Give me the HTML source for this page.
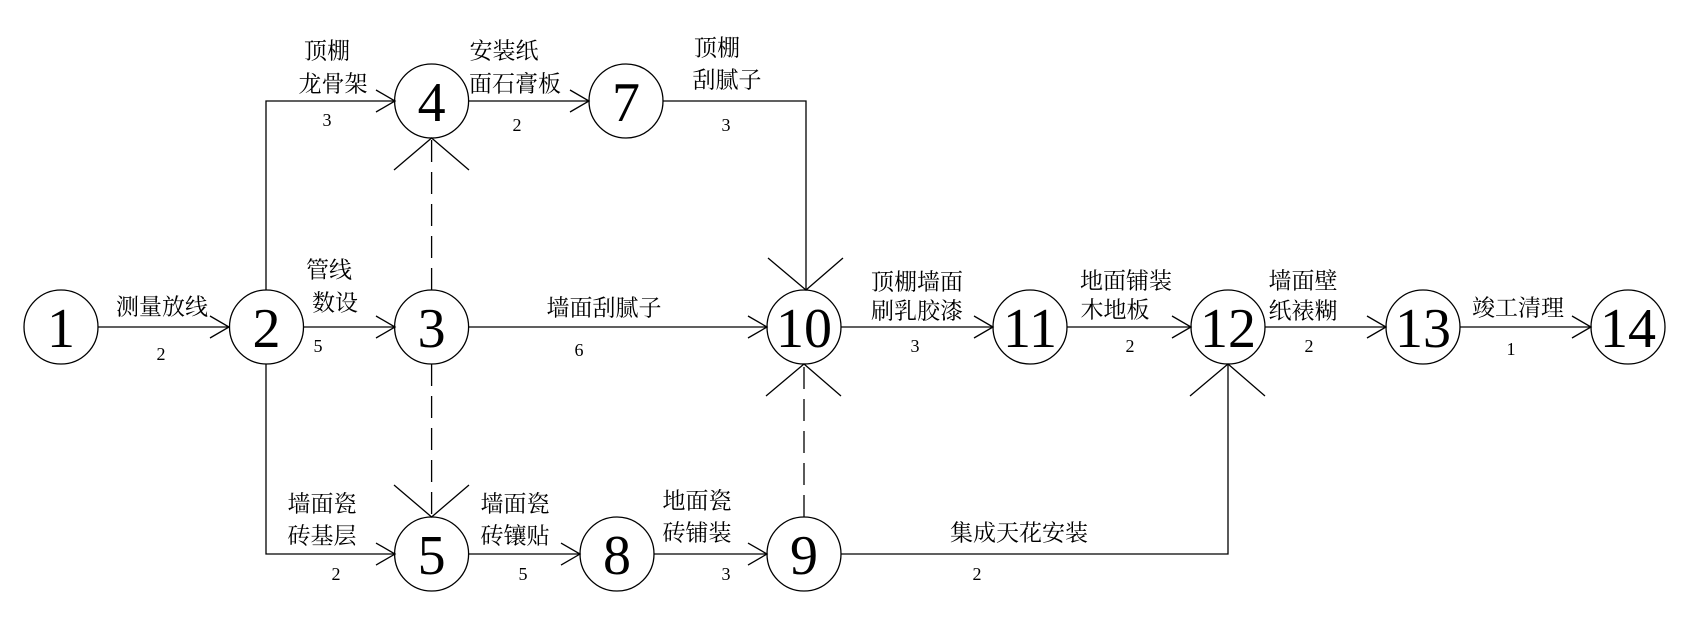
<!DOCTYPE html>
<html><head><meta charset="utf-8"><style>
html,body{margin:0;padding:0;background:#fff;}
svg{display:block;}
.c{font-family:"Liberation Serif","Noto Serif CJK SC",serif;font-size:23px;}
.n{font-family:"Liberation Serif",serif;font-size:18px;}
.b{font-family:"Liberation Serif",serif;font-size:56px;}
</style></head><body>
<svg width="1682" height="635" viewBox="0 0 1682 635" xmlns="http://www.w3.org/2000/svg">
<g stroke="#000" stroke-width="1.3" fill="none">
<!-- solid lines -->
<line x1="98" y1="327" x2="229" y2="327"/>
<line x1="303" y1="327" x2="395" y2="327"/>
<line x1="468" y1="327" x2="767" y2="327"/>
<line x1="841" y1="327" x2="993" y2="327"/>
<line x1="1067" y1="327" x2="1191" y2="327"/>
<line x1="1265" y1="327" x2="1386" y2="327"/>
<line x1="1460" y1="327" x2="1591" y2="327"/>
<polyline points="266,290 266,101 395,101"/>
<line x1="468" y1="101" x2="589" y2="101"/>
<polyline points="663,101 806,101 806,290"/>
<polyline points="266,364 266,554 395,554"/>
<line x1="468" y1="554" x2="580" y2="554"/>
<line x1="654" y1="554" x2="767" y2="554"/>
<polyline points="841,554 1228,554 1228,364"/>
<!-- dashed -->
<line x1="431.6" y1="290" x2="431.6" y2="138" stroke-dasharray="22,10"/>
<line x1="431.6" y1="364" x2="431.6" y2="517" stroke-dasharray="22,10"/>
<line x1="804" y1="517" x2="804" y2="364" stroke-dasharray="22,10"/>
<!-- horizontal arrowheads -->
<g>
<polyline points="210,316 229,327 210,338"/>
<polyline points="376,316 395,327 376,338"/>
<polyline points="748,316 767,327 748,338"/>
<polyline points="974,316 993,327 974,338"/>
<polyline points="1172,316 1191,327 1172,338"/>
<polyline points="1367,316 1386,327 1367,338"/>
<polyline points="1572,316 1591,327 1572,338"/>
<polyline points="376,90 395,101 376,112"/>
<polyline points="570,90 589,101 570,112"/>
<polyline points="376,543 395,554 376,565"/>
<polyline points="561,543 580,554 561,565"/>
<polyline points="748,543 767,554 748,565"/>
</g>
<!-- vertical arrowheads -->
<polyline points="394,170 431.6,138 469,170"/>
<polyline points="394,485 431.6,517 469,485"/>
<polyline points="768,258 806,290 843,258"/>
<polyline points="766,396 804,364 841,396"/>
<polyline points="1190,396 1228,364 1265,396"/>
<!-- nodes -->
<circle cx="61" cy="327" r="37"/>
<circle cx="266.5" cy="327" r="37"/>
<circle cx="431.6" cy="327" r="37"/>
<circle cx="431.6" cy="101" r="37"/>
<circle cx="626" cy="101" r="37"/>
<circle cx="804" cy="327" r="37"/>
<circle cx="431.6" cy="554" r="37"/>
<circle cx="617" cy="554" r="37"/>
<circle cx="804" cy="554" r="37"/>
<circle cx="1030" cy="327" r="37"/>
<circle cx="1228" cy="327" r="37"/>
<circle cx="1423" cy="327" r="37"/>
<circle cx="1628" cy="327" r="37"/>
</g>
<g text-anchor="middle" dominant-baseline="central" fill="#000">
<g class="b">
<text x="61" y="329">1</text><text x="266.5" y="329">2</text><text x="431.6" y="329">3</text>
<text x="431.6" y="103">4</text><text x="626" y="103">7</text><text x="804" y="329">10</text>
<text x="431.6" y="556">5</text><text x="617" y="556">8</text><text x="804" y="556">9</text>
<text x="1030" y="329">11</text><text x="1228" y="329">12</text><text x="1423" y="329">13</text><text x="1628" y="329">14</text>
</g>
<g class="c">
<text x="162" y="307">测量放线</text>
<text x="327" y="51">顶棚</text><text x="333" y="84">龙骨架</text>
<text x="504" y="51">安装纸</text><text x="515" y="84">面石膏板</text>
<text x="717" y="48">顶棚</text><text x="727" y="80">刮腻子</text>
<text x="329" y="270">管线</text><text x="335" y="303">数设</text>
<text x="604" y="308">墙面刮腻子</text>
<text x="917" y="282">顶棚墙面</text><text x="917" y="311">刷乳胶漆</text>
<text x="1126" y="281">地面铺装</text><text x="1115" y="310">木地板</text>
<text x="1303" y="281">墙面壁</text><text x="1303" y="311">纸裱糊</text>
<text x="1518" y="308">竣工清理</text>
<text x="322" y="504">墙面瓷</text><text x="322" y="536">砖基层</text>
<text x="515" y="504">墙面瓷</text><text x="515" y="536">砖镶贴</text>
<text x="697" y="501">地面瓷</text><text x="697" y="533">砖铺装</text>
<text x="1019" y="533">集成天花安装</text>
</g>
<g class="n">
<text x="161" y="354">2</text><text x="327" y="120">3</text><text x="517" y="125">2</text>
<text x="726" y="125">3</text><text x="318" y="346">5</text><text x="579" y="350">6</text>
<text x="915" y="346">3</text><text x="1130" y="346">2</text><text x="1309" y="346">2</text>
<text x="1511" y="349">1</text><text x="336" y="574">2</text><text x="523" y="574">5</text>
<text x="726" y="574">3</text><text x="977" y="574">2</text>
</g>
</g>
</svg>
</body></html>
